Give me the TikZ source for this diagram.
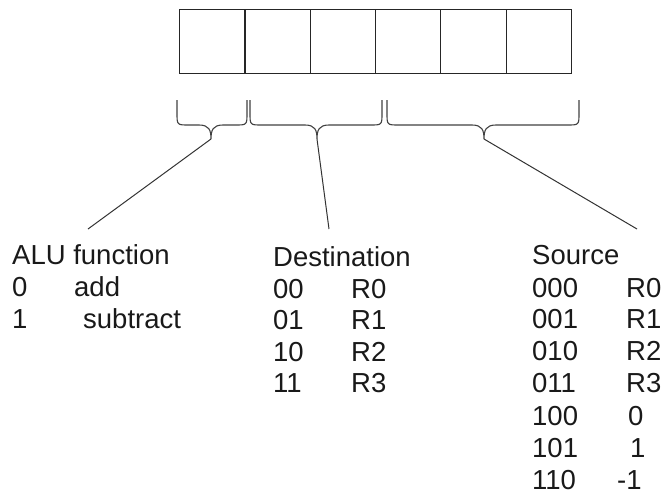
\documentclass[tikz,border=0pt]{standalone}
\usepackage{fontspec}
\setmainfont{Liberation Sans}
\begin{document}
\begin{tikzpicture}[x=1pt,y=-1pt,
  cell/.style={draw=black!85,line width=1.2pt,minimum width=65.3pt,minimum height=64pt,inner sep=0,anchor=north west},
  bracepath/.style={draw=black!75,line width=1.1pt},
  conn/.style={draw=black!80,line width=1pt},
  lbl/.style={inner sep=0,anchor=base west,font=\fontsize{27.5}{32}\selectfont,text=black!90}]
\useasboundingbox (0,0) rectangle (665,499);
% register cells
\foreach \i in {0,...,5}{
  \node[cell] (c\i) at ({179+65.3*\i},9) {};
}
% braces
\newcommand{\drawbrace}[3]{%
  \path[bracepath] (#1,100) -- (#1,113) .. controls (#1,125) .. ({#1+12},125) -- ({#3-12},125)
    .. controls ({#3-2},125) and (#3,130) .. (#3,139)
    .. controls (#3,130) and ({#3+2},125) .. ({#3+12},125) -- ({#2-12},125)
    .. controls (#2,125) .. (#2,113) -- (#2,100);}
\drawbrace{177}{247}{211}
\drawbrace{250}{382}{317}
\drawbrace{387}{579}{484}
\coordinate (t1) at (211,139);
\coordinate (t2) at (317,139);
\coordinate (t3) at (484,139);
% ALU function
\node[lbl] (alu) at (12,264) {ALU function};
\node[lbl] (a0) at (12,296) {0};
\node[lbl] (a0v) at (74,296) {add};
\node[lbl] (a1) at (12,328) {1};
\node[lbl] (a1v) at (83,328) {subtract};
% Destination
\node[lbl] (dst) at (273,266) {Destination};
\node[lbl] (d0) at (273,298) {00};
\node[lbl] (d0v) at (351,298) {R0};
\node[lbl] (d1) at (273,329) {01};
\node[lbl] (d1v) at (351,329) {R1};
\node[lbl] (d2) at (273,361) {10};
\node[lbl] (d2v) at (351,361) {R2};
\node[lbl] (d3) at (273,392) {11};
\node[lbl] (d3v) at (351,392) {R3};
% Source
\node[lbl] (src) at (532,264) {Source};
\node[lbl] (s0) at (532,297) {000};
\node[lbl] (s0v) at (626,297) {R0};
\node[lbl] (s1) at (532,328) {001};
\node[lbl] (s1v) at (626,328) {R1};
\node[lbl] (s2) at (532,360) {010};
\node[lbl] (s2v) at (626,360) {R2};
\node[lbl] (s3) at (532,392) {011};
\node[lbl] (s3v) at (626,392) {R3};
\node[lbl] (s4) at (532,425) {100};
\node[lbl] (s4v) at (628,425) {0};
\node[lbl] (s5) at (532,457) {101};
\node[lbl] (s5v) at (630,457) {1};
\node[lbl] (s6) at (532,489) {110};
\node[lbl] (s6v) at (617,489) {-1};
% connectors
\coordinate (e1) at (88,229);
\coordinate (e2) at (329,229);
\coordinate (e3) at (637,229);
\draw[conn] (t1) -- (e1);
\draw[conn] (t2) -- (e2);
\draw[conn] (t3) -- (e3);
\end{tikzpicture}
\end{document}
